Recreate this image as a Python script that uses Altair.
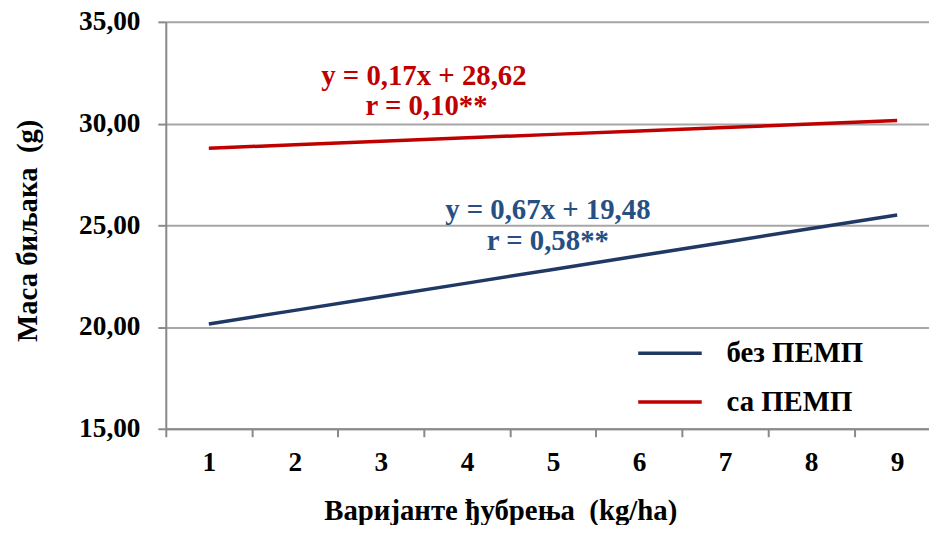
import altair as alt
import pandas as pd

# categories (fertilization variants)
variants = [1, 2, 3, 4, 5, 6, 7, 8, 9]
# plant mass
bez_pemp = [20.15, 20.82, 21.49, 22.16, 22.83, 23.50, 24.17, 24.84, 25.51]
sa_pemp = [28.79, 28.96, 29.13, 29.30, 29.47, 29.64, 29.81, 29.98, 30.15]
series_names = ["без ПЕМП", "са ПЕМП"]
series_colors = ["#1F3864", "#C00000"]

# annotations (text, x, y in data units, colour)
ann_text = ["y = 0,17x + 28,62", "r = 0,10**", "y = 0,67x + 19,48", "r = 0,58**"]
ann_x = [3.50, 3.53, 4.94, 4.94]
ann_y = [32.32, 30.85, 25.73, 24.22]
ann_color = ["#C00000", "#C00000", "#264F84", "#264F84"]

rows = []
for v, a, b in zip(variants, bez_pemp, sa_pemp):
    rows.append({"x": v, "y": a, "s": series_names[0]})
    rows.append({"x": v, "y": b, "s": series_names[1]})
df = pd.DataFrame(rows)
ann = pd.DataFrame({"t": ann_text, "x": ann_x, "y": ann_y, "c": ann_color})

FONT = "Liberation Serif"
xscale = alt.Scale(domain=[0.5, 9.37], nice=False, zero=False)
yscale = alt.Scale(domain=[15, 35], nice=False, zero=False)

lines = alt.Chart(df).mark_line(strokeWidth=3.5).encode(
    x=alt.X("x:Q", scale=xscale,
            axis=alt.Axis(values=variants, title="Варијанте ђубрења\u00a0\u00a0(kg/ha)",
                          format="d",
                          grid=False, tickOffset=-43.4, labelOffset=43.4,
                          tickSize=8, tickWidth=2, tickColor="#898989",
                          domainColor="#898989", domainWidth=2,
                          labelFont=FONT, labelFontSize=27.5, labelFontWeight="bold",
                          labelColor="black", labelPadding=12,
                          titleFont=FONT, titleFontSize=29, titleFontWeight="bold",
                          titleColor="black", titleX=337, titleY=82,
                          titleBaseline="middle", titleAnchor=None)),
    y=alt.Y("y:Q", scale=yscale,
            axis=alt.Axis(values=[15, 20, 25, 30, 35], title="Маса биљака\u00a0\u00a0(g)",
                          labelExpr="replace(format(datum.value, '.2f'), '.', ',')",
                          grid=True, gridColor="#A6A6A6", gridWidth=2,
                          tickSize=8, tickWidth=2, tickColor="#898989",
                          domainColor="#898989", domainWidth=2,
                          labelFont=FONT, labelFontSize=27.5, labelFontWeight="bold",
                          labelColor="black", labelPadding=18,
                          titleFont=FONT, titleFontSize=29, titleFontWeight="bold",
                          titleColor="black", titleX=-139, titleY=210,
                          titleBaseline="middle", titleAngle=270)),
    color=alt.Color("s:N", scale=alt.Scale(domain=series_names, range=series_colors),
                    legend=alt.Legend(title=None, orient="none", legendX=474, legendY=300,
                                      symbolType="stroke", symbolSize=4096,
                                      symbolStrokeWidth=3.5, labelOffset=23,
                                      labelFont=FONT, labelFontSize=29,
                                      labelFontWeight="bold", labelColor="black",
                                      rowPadding=-42)),
)

texts = alt.Chart(ann).mark_text(font=FONT, fontSize=29, fontWeight="bold",
                                  baseline="middle", align="center").encode(
    x=alt.X("x:Q", scale=xscale),
    y=alt.Y("y:Q", scale=yscale),
    text="t:N",
    color=alt.Color("c:N", scale=None),
)

chart = alt.layer(lines, texts).properties(
    width=769, height=410,
    autosize=alt.AutoSizeParams(type="none"),
    padding={"left": 159, "top": 12, "right": 0, "bottom": 95},
).configure_view(stroke=None).configure(background="white")

chart.save("out.html", embed_options={"renderer": "svg", "actions": False})
